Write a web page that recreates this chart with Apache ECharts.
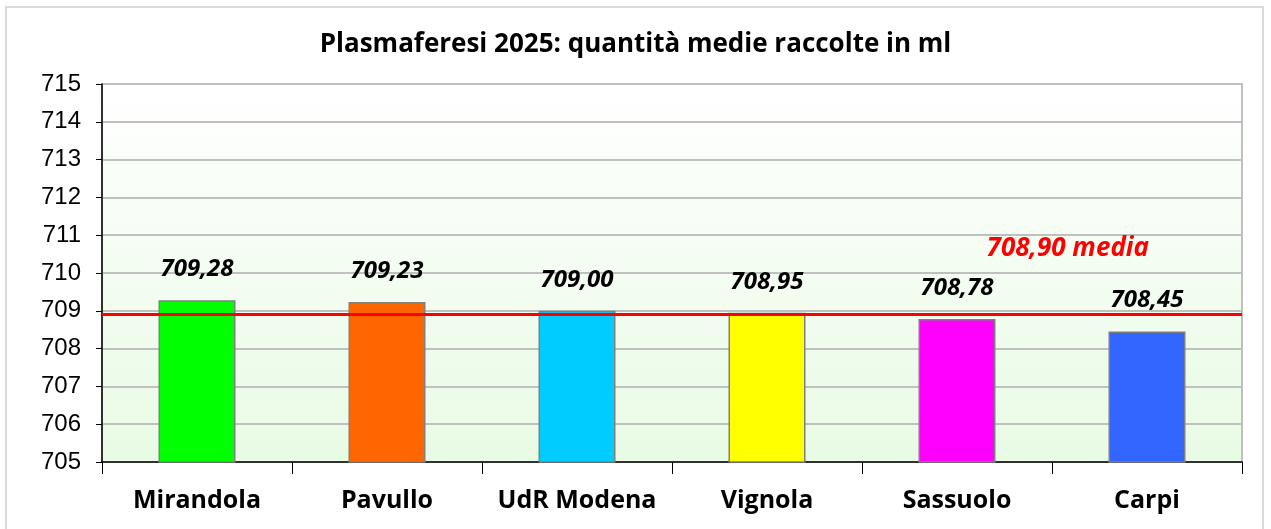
<!DOCTYPE html>
<html>
<head>
<meta charset="utf-8">
<script src="https://cdn.jsdelivr.net/npm/echarts@6/dist/echarts.min.js"></script>
<style>
  html, body { margin: 0; padding: 0; background: #fff; }
  #chart { width: 1271px; height: 529px; }
</style>
</head>
<body>
<div id="chart"></div>
<script>
const categories = ['Mirandola', 'Pavullo', 'UdR Modena', 'Vignola', 'Sassuolo', 'Carpi'];
const values = [709.28, 709.23, 709.00, 708.95, 708.78, 708.45];
const barColors = ['#00ff00', '#ff6600', '#00ccff', '#ffff00', '#ff00ff', '#3366ff'];
const mediaValue = 708.90;
const yTicks = [705, 706, 707, 708, 709, 710, 711, 712, 713, 714, 715];

const fmt = v => v.toFixed(2).replace('.', ',');

const myChart = echarts.init(document.getElementById('chart'));
const option = {
  animation: false,
  backgroundColor: '#fff',
  title: {
    text: 'Plasmaferesi 2025: quantità medie raccolte in ml',
    left: 'center',
    top: 27,
    textStyle: {
      fontFamily: 'Open Sans',
      fontWeight: 'bold',
      fontSize: 26,
      color: '#000'
    }
  },
  graphic: [
    {
      type: 'rect',
      shape: { x: 6, y: 7, width: 1257, height: 530 },
      style: { fill: 'none', stroke: '#d9d9d9', lineWidth: 2 },
      z: -10
    }
  ],
  grid: {
    left: 102,
    right: 29,
    top: 84,
    bottom: 67,
    show: true,
    borderColor: '#c0c0c0',
    borderWidth: 2,
    backgroundColor: new echarts.graphic.LinearGradient(0, 0, 0, 1, [
      { offset: 0, color: '#ffffff' },
      { offset: 1, color: '#e8fbe4' }
    ])
  },
  xAxis: {
    type: 'category',
    data: categories,
    axisLine: { show: true, lineStyle: { color: '#000', width: 1.5 } },
    axisTick: { show: true, interval: 0, length: 12, lineStyle: { color: '#000', width: 1 } },
    axisLabel: {
      interval: 0,
      hideOverlap: false,
      margin: 26,
      fontFamily: 'Open Sans',
      fontWeight: 'bold',
      fontSize: 25,
      color: '#000'
    }
  },
  yAxis: {
    type: 'value',
    min: yTicks[0],
    max: yTicks[yTicks.length - 1],
    interval: 1,
    axisLine: { show: true, lineStyle: { color: '#000', width: 1.5 } },
    axisTick: { show: true, length: 6, lineStyle: { color: '#000' } },
    axisLabel: {
      margin: 21,
      fontFamily: 'Liberation Sans',
      fontSize: 24,
      color: '#000'
    },
    splitLine: { show: true, lineStyle: { color: '#c0c0c0', width: 2 } }
  },
  series: [
    {
      type: 'bar',
      barWidth: 77,
      data: values.map((v, i) => ({
        value: v,
        itemStyle: { color: barColors[i], borderColor: '#808080', borderWidth: 1.5 }
      })),
      label: {
        show: true,
        position: 'top',
        distance: 19,
        formatter: p => fmt(p.value),
        fontFamily: 'Open Sans',
        fontWeight: 'bold',
        fontStyle: 'italic',
        fontSize: 24,
        color: '#000'
      },
      markLine: {
        symbol: 'none',
        silent: true,
        lineStyle: { color: '#ff0000', width: 3, type: 'solid' },
        label: {
          show: true,
          position: 'insideEndTop',
          formatter: fmt(mediaValue) + ' media',
          offset: [-88, -48],
          fontFamily: 'Open Sans',
          fontWeight: 'bold',
          fontStyle: 'italic',
          fontSize: 26,
          color: '#ff0000'
        },
        data: [{ yAxis: mediaValue }]
      }
    }
  ]
};
myChart.setOption(option);
</script>
</body>
</html>
